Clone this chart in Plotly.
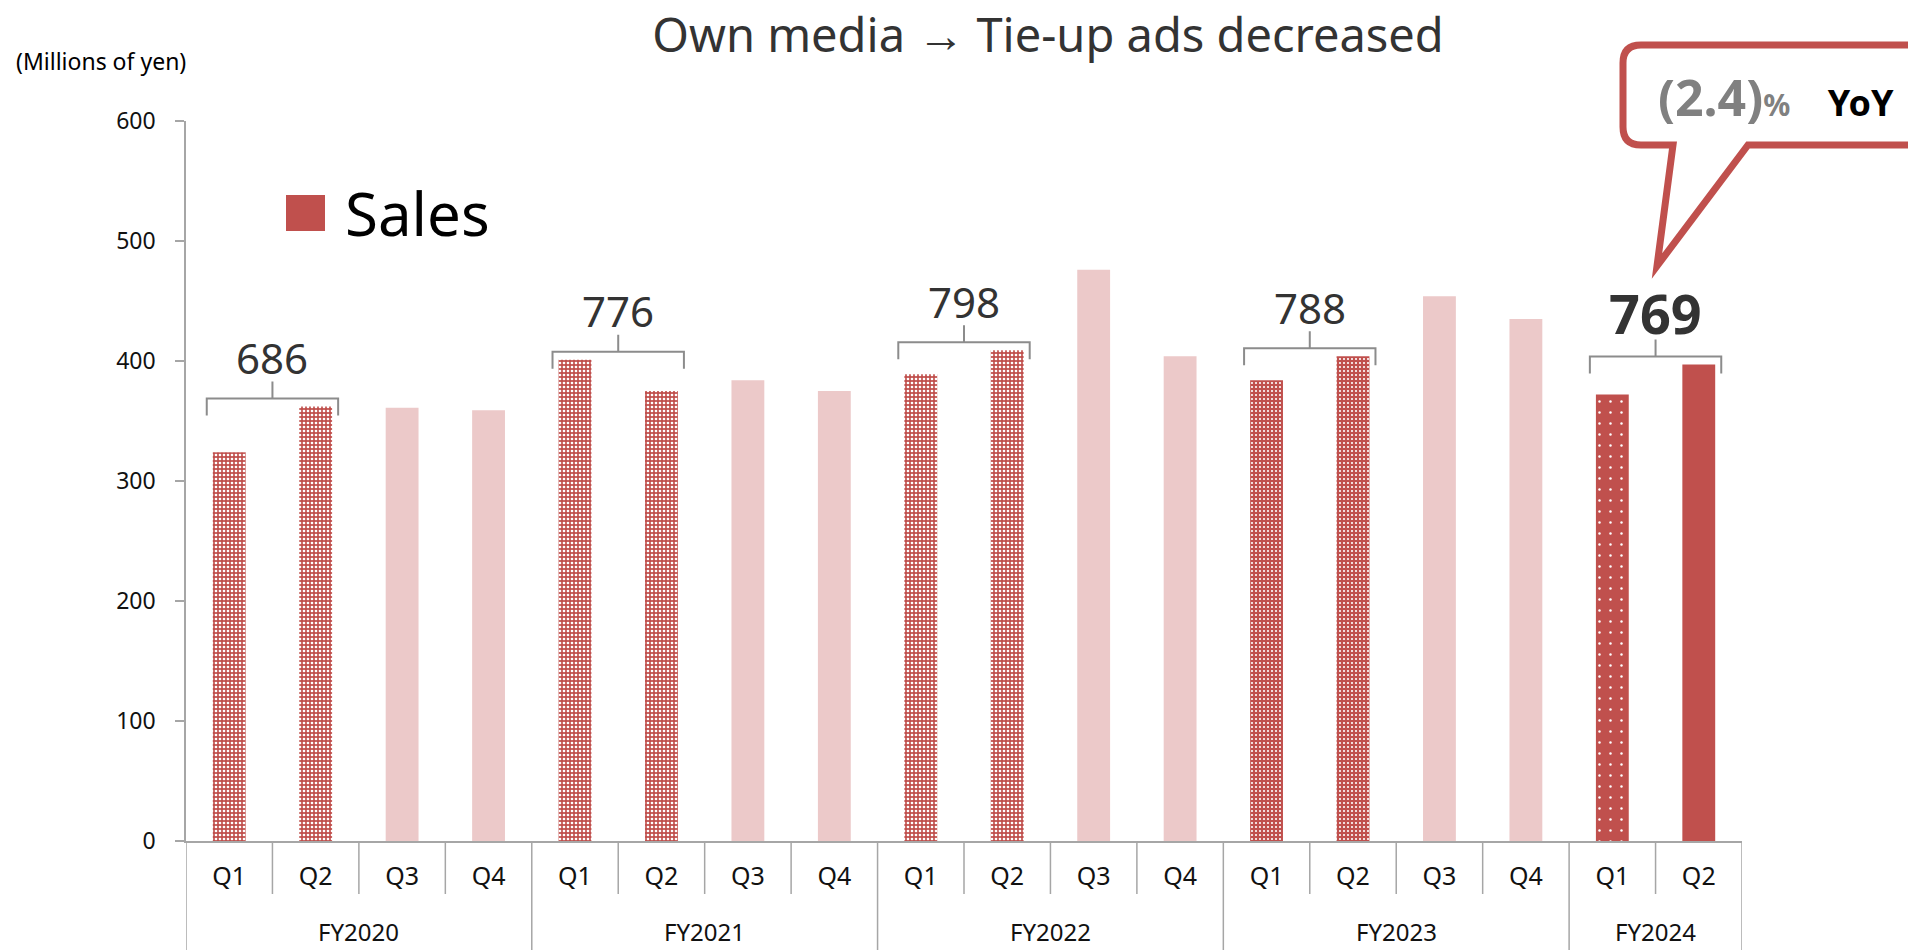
import plotly.graph_objects as go

# ---------------- data ----------------
years = ["FY2020", "FY2021", "FY2022", "FY2023", "FY2024"]
quarter_labels = ["Q1", "Q2", "Q3", "Q4"]
sales_fy2020 = [324, 362, 361, 359]
sales_fy2021 = [401, 375, 384, 375]
sales_fy2022 = [389, 409, 476, 404]
sales_fy2023 = [384, 404, 454, 435]
sales_fy2024 = [372, 397]
sales_by_year = [sales_fy2020, sales_fy2021, sales_fy2022, sales_fy2023, sales_fy2024]

title_text = "Own media \u2192 Tie-up ads decreased"
unit_text = "(Millions of yen)"
legend_text = "Sales"

# ---------------- styling ----------------
FONT = "Noto Sans"
RED = "#C0504D"
LIGHT = "#ECC9C9"
GRAY = "#A6A6A6"

# layout geometry in pixels (figure 1908x950)
W, H = 1908, 950
L_PX, R_PX, T_PX, B_PX = 186, 1742, 121, 841


def paper(xp, yp):
    return (xp - L_PX) / (R_PX - L_PX), (B_PX - yp) / (B_PX - T_PX)


# flatten
xs, vals, yr_idx, q_names = [], [], [], []
i = 0
for yi, vs in enumerate(sales_by_year):
    for qi, v in enumerate(vs):
        xs.append(i)
        vals.append(v)
        yr_idx.append(yi)
        q_names.append(quarter_labels[qi])
        i += 1
n = len(xs)


def style_of(k):
    if q_names[k] in ("Q3", "Q4"):
        return "light"
    if yr_idx[k] <= 2:
        return "checker"
    if yr_idx[k] == 3:
        return "grid"
    return "dots" if q_names[k] == "Q1" else "solid"


styles = {
    "light": dict(color=LIGHT),
    "checker": dict(color=RED, pattern=dict(shape=".", fgcolor="white", bgcolor=RED,
                                            size=4, solidity=0.35, fillmode="replace")),
    "grid": dict(color=RED, pattern=dict(shape=".", fgcolor="white", bgcolor=RED,
                                         size=4, solidity=0.22, fillmode="replace")),
    "dots": dict(color=RED, pattern=dict(shape=".", fgcolor="white", bgcolor=RED,
                                         size=11, solidity=0.04, fillmode="replace")),
    "solid": dict(color=RED),
}

fig = go.Figure()
for sname, mk in styles.items():
    idx = [k for k in range(n) if style_of(k) == sname]
    fig.add_trace(go.Bar(
        x=[xs[k] for k in idx], y=[vals[k] for k in idx],
        width=0.38, marker=dict(line=dict(width=0), **mk),
        showlegend=False, hoverinfo="skip",
    ))

shapes = []
annotations = []

# dividers below x-axis
year_bounds = {-0.5}
acc = 0
for vs in sales_by_year:
    acc += len(vs)
    year_bounds.add(acc - 0.5)
for b in range(n + 1):
    xb = b - 0.5
    y_end = paper(0, H)[1] if xb in year_bounds else paper(0, 894)[1]
    shapes.append(dict(type="line", xref="x", yref="paper", x0=xb, x1=xb, y0=0, y1=y_end,
                       line=dict(color=GRAY, width=1.5), layer="above"))

# year labels
for yi, name in enumerate(years):
    ks = [k for k in range(n) if yr_idx[k] == yi]
    annotations.append(dict(x=sum(xs[k] for k in ks) / len(ks), y=paper(0, 931)[1],
                            xref="x", yref="paper", text=name, showarrow=False,
                            font=dict(family=FONT, size=24, color="#111"),
                            xanchor="center", yanchor="middle"))

# H1 brackets + totals
unit_px = (B_PX - T_PX) / 600.0
gap = 8 / unit_px
drop = 17 / unit_px
for yi, vs in enumerate(sales_by_year):
    ks = [k for k in range(n) if yr_idx[k] == yi][:2]
    top = max(vals[k] for k in ks)
    total = sum(vals[k] for k in ks)
    yb = top + gap
    left = xs[ks[0]] - 0.26
    right = xs[ks[1]] + 0.26
    mid = (xs[ks[0]] + xs[ks[1]]) / 2
    path = (f"M {left},{yb - drop} L {left},{yb} L {right},{yb} L {right},{yb - drop} "
            f"M {mid},{yb} L {mid},{yb + drop}")
    shapes.append(dict(type="path", xref="x", yref="y", path=path,
                       line=dict(color="#8C8C8C", width=2)))
    last = yi == len(sales_by_year) - 1
    annotations.append(dict(x=mid, y=yb + drop, xref="x", yref="y",
                            text=f"<b>{total}</b>" if last else str(total),
                            showarrow=False, xanchor="center", yanchor="middle",
                            yshift=27 if last else 24,
                            font=dict(family=FONT, size=54 if last else 42, color="#333")))

# YoY callout
cur = sum(sales_by_year[-1][:2])
prev = sum(sales_by_year[-2][:2])
yoy = (cur / prev - 1) * 100
yoy_txt = f"({abs(yoy):.1f})" if yoy < 0 else f"+{yoy:.1f}"

bl, bt, br, bb, r = 1623, 45, 1960, 145, 18
pts = [("M", bl + r, bt), ("L", br, bt), ("L", br, bb), ("L", 1748, bb), ("L", 1657, 266),
       ("L", 1673, bb), ("L", bl + r, bb)]
p = ""
for cmd, a, b in pts:
    X, Y = paper(a, b)
    p += f"{cmd} {X},{Y} "
c = paper(bl, bb); e = paper(bl, bb - r)
p += f"Q {c[0]},{c[1]} {e[0]},{e[1]} "
e2 = paper(bl, bt + r)
p += f"L {e2[0]},{e2[1]} "
c2 = paper(bl, bt); e3 = paper(bl + r, bt)
p += f"Q {c2[0]},{c2[1]} {e3[0]},{e3[1]} Z"
shapes.append(dict(type="path", xref="paper", yref="paper", path=p,
                   line=dict(color=RED, width=7), fillcolor="white", layer="above"))

cx, cy = paper(1656, 97)
annotations.append(dict(
    x=cx, y=cy, xref="paper", yref="paper", xanchor="left", yanchor="middle", showarrow=False,
    text=(f"<b><span style='color:#808080;font-size:50px'>{yoy_txt}</span>"
          f"<span style='color:#808080;font-size:30px'>%</span>"
          f"<span style='font-size:36px'>&nbsp;&nbsp;&nbsp; YoY</span></b>"),
    font=dict(family=FONT, size=36, color="black")))

# legend
lx0, ly0 = paper(286, 195)
lx1, ly1 = paper(325, 231)
shapes.append(dict(type="rect", xref="paper", yref="paper", x0=lx0, x1=lx1, y0=ly0, y1=ly1,
                   fillcolor=RED, line=dict(width=0)))
tx, ty = paper(343, 213)
annotations.append(dict(x=tx, y=ty, xref="paper", yref="paper", text=legend_text,
                        showarrow=False, xanchor="left", yanchor="middle",
                        font=dict(family=FONT, size=60, color="black")))

# unit label
ux, uy = paper(14, 61)
annotations.append(dict(x=ux, y=uy, xref="paper", yref="paper", text=unit_text,
                        showarrow=False, xanchor="left", yanchor="middle",
                        font=dict(family=FONT, size=23, color="black")))

fig.update_layout(
    width=W, height=H,
    margin=dict(l=L_PX, r=W - R_PX, t=T_PX, b=H - B_PX, autoexpand=False),
    paper_bgcolor="white", plot_bgcolor="white",
    barmode="overlay",
    title=dict(text=title_text, x=1048 / W, xref="container", xanchor="center",
               y=1 - 36 / H, yref="container", yanchor="middle",
               font=dict(family=FONT, size=47, color="#333")),
    xaxis=dict(range=[-0.5, n - 0.5], tickmode="array", tickvals=xs, ticktext=q_names,
               showline=True, linecolor=GRAY, linewidth=1.5, ticks="", showgrid=False,
               zeroline=False, ticklabelstandoff=12, automargin=False,
               tickfont=dict(family=FONT, size=25, color="#111")),
    yaxis=dict(range=[0, 600], dtick=100, showline=True, linecolor=GRAY, linewidth=1.5,
               ticks="outside", ticklen=9, tickcolor=GRAY, tickwidth=1.5, showgrid=False,
               zeroline=False, ticklabelstandoff=15, automargin=False,
               tickfont=dict(family=FONT, size=23, color="#111")),
    shapes=shapes, annotations=annotations,
)

fig.write_html(
    "out.html",
    config={"displayModeBar": False},
    post_script="document.body.style.margin='0';document.body.style.overflow='hidden';",
)
